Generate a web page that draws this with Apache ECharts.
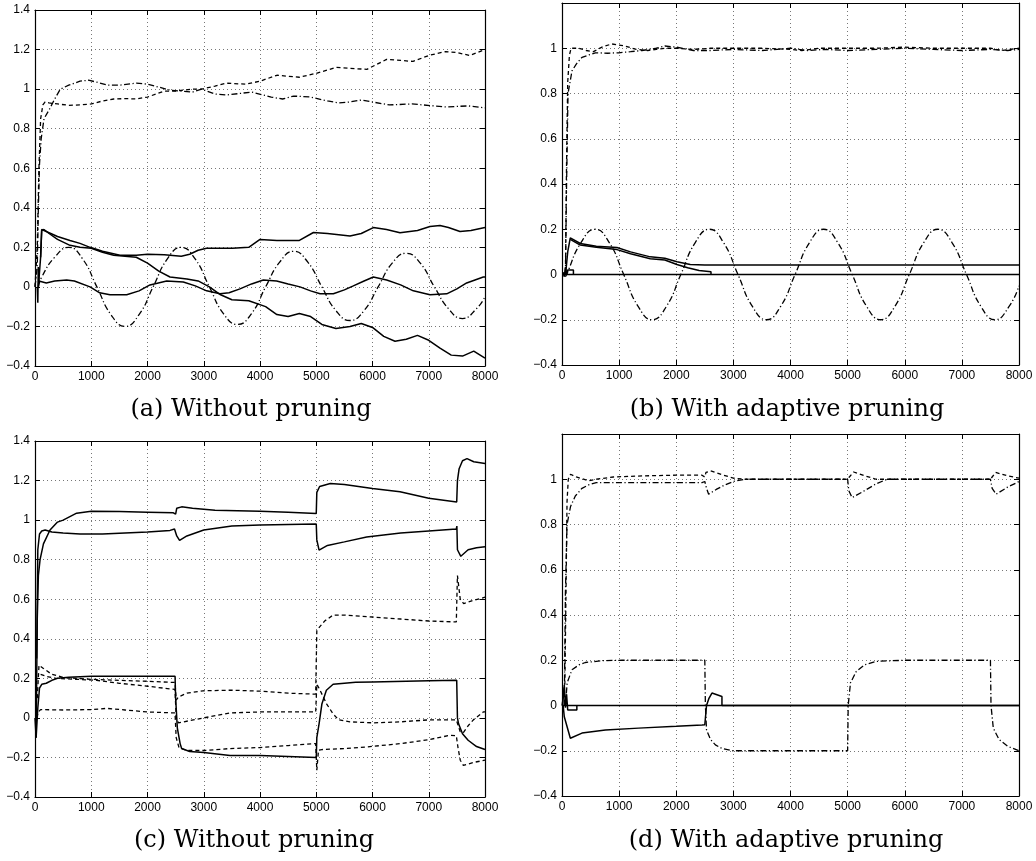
<!DOCTYPE html>
<html>
<head>
<meta charset="utf-8">
<script src="https://cdn.jsdelivr.net/npm/echarts@6/dist/echarts.min.js"></script>
<style>
html,body{margin:0;padding:0;background:#fff;}
#chart{width:1036px;height:861px;}
</style>
</head>
<body>
<div id="chart"></div>
<script>
// ---------- captions ----------
const captions = ['(a) Without pruning', '(b) With adaptive pruning', '(c) Without pruning', '(d) With adaptive pruning'];

// ---------- panel (a) ----------
const a_dash = [[0,0],[40,0.2],[70,0.6],[100,0.85],[140,0.92],[180,0.935],[250,0.93],[400,0.925],[600,0.918],[800,0.92],[1000,0.925],[1200,0.94],[1400,0.95],[1600,0.952],[1800,0.95],[2000,0.96],[2300,0.99],[2500,0.99],[2800,1.0],[2963,1.0],[3200,1.015],[3400,1.03],[3750,1.025],[4000,1.04],[4300,1.07],[4700,1.06],[5000,1.08],[5360,1.11],[5600,1.105],[5900,1.1],[6250,1.15],[6500,1.145],[6720,1.14],[7000,1.17],[7300,1.19],[7500,1.185],[7730,1.17],[8000,1.2]];
const a_dashdot = [[0,0],[40,0.1],[60,0.4],[80,0.62],[110,0.75],[160,0.85],[260,0.9],[350,0.95],[450,1.0],[600,1.02],[800,1.04],[950,1.045],[1100,1.035],[1300,1.02],[1500,1.02],[1800,1.03],[2000,1.025],[2200,1.01],[2400,0.995],[2600,0.99],[2800,0.985],[2963,1.0],[3200,0.975],[3400,0.97],[3700,0.98],[3850,0.985],[4200,0.96],[4400,0.95],[4600,0.965],[4900,0.96],[5200,0.94],[5400,0.93],[5600,0.935],[5800,0.945],[6000,0.935],[6300,0.92],[6700,0.925],[7100,0.915],[7300,0.91],[7700,0.915],[8000,0.905]];
const a_sine = [[60,0.0],[120,0.05],[350,0.15],[600,0.2],[850,0.14],[1100,0.0],[1350,-0.14],[1600,-0.2],[1850,-0.14],[2100,0.0],[2350,0.14],[2600,0.2],[2850,0.14],[3100,0.0],[3350,-0.135],[3600,-0.19],[3850,-0.135],[4100,0.0],[4350,0.125],[4600,0.18],[4850,0.125],[5100,0.0],[5350,-0.12],[5600,-0.17],[5850,-0.12],[6100,0.0],[6350,0.12],[6600,0.17],[6850,0.12],[7100,0.0],[7350,-0.11],[7600,-0.16],[7850,-0.11],[8000,-0.05]];
const a_solid1 = [[60,0.0],[100,0.15],[119,0.29],[200,0.28],[400,0.255],[622,0.235],[800,0.22],[978,0.2],[1200,0.18],[1511,0.16],[1800,0.16],[2000,0.165],[2300,0.162],[2600,0.155],[2750,0.165],[2900,0.185],[3050,0.195],[3300,0.195],[3511,0.195],[3800,0.2],[4000,0.24],[4300,0.235],[4700,0.235],[4950,0.275],[5200,0.27],[5600,0.257],[5800,0.27],[6015,0.3],[6250,0.29],[6489,0.274],[6800,0.285],[7022,0.305],[7200,0.31],[7350,0.3],[7555,0.28],[7750,0.285],[8000,0.3]];
const a_solid2 = [[100,0.15],[119,0.285],[160,0.29],[250,0.27],[400,0.24],[622,0.21],[800,0.2],[1000,0.195],[1200,0.175],[1400,0.16],[1600,0.155],[1800,0.15],[2000,0.12],[2200,0.08],[2400,0.05],[2700,0.04],[2900,0.03],[3100,0.0],[3300,-0.04],[3500,-0.065],[3800,-0.07],[4100,-0.1],[4300,-0.14],[4500,-0.15],[4700,-0.135],[4900,-0.15],[5100,-0.19],[5350,-0.21],[5600,-0.2],[5800,-0.185],[6000,-0.205],[6200,-0.25],[6400,-0.275],[6600,-0.265],[6800,-0.245],[7000,-0.27],[7200,-0.31],[7400,-0.345],[7600,-0.35],[7800,-0.325],[8000,-0.36]];
const a_solid3 = [[40,0.0],[50,-0.08],[58,0.1],[70,0.03],[89,0.025],[200,0.02],[350,0.03],[563,0.035],[700,0.03],[978,0.0],[1150,-0.03],[1333,-0.04],[1630,-0.04],[1850,-0.02],[2044,0.01],[2341,0.03],[2637,0.025],[2850,0.005],[3052,-0.02],[3289,-0.035],[3450,-0.03],[3644,-0.01],[3850,0.015],[4059,0.035],[4296,0.03],[4500,0.015],[4711,0.0],[4900,-0.02],[5067,-0.035],[5304,-0.035],[5500,-0.015],[5659,0.005],[5850,0.03],[6015,0.05],[6252,0.035],[6500,0.01],[6726,-0.02],[7022,-0.04],[7319,-0.035],[7500,-0.01],[7674,0.02],[7970,0.05],[8000,0.05]];

// ---------- panel (b) ----------
const b_dash = [[0,0],[60,0.0],[80,0.5],[100,0.85],[130,0.97],[160,1.0],[300,1.0],[425,0.99],[550,0.985],[700,1.005],[870,1.019],[1100,1.01],[1300,0.995],[1500,0.99],[1650,0.995],[1800,1.0],[2000,1.0],[2300,0.995],[2600,1.0],[3000,1.0],[3500,1.0],[4000,0.995],[4200,0.99],[4500,1.0],[5000,1.0],[5500,1.0],[6000,1.005],[6500,1.0],[7000,1.0],[7500,1.0],[7700,0.99],[8000,1.0]];
const b_dashdot = [[60,0.0],[80,0.4],[105,0.8],[175,0.9],[250,0.93],[350,0.96],[583,0.98],[800,0.978],[990,0.98],[1200,0.985],[1400,0.99],[1650,1.0],[1800,1.01],[2000,1.005],[2300,0.99],[2600,0.99],[3000,0.995],[3500,0.99],[4000,1.0],[4300,0.99],[4600,0.995],[5000,0.99],[5500,0.995],[6000,1.0],[6500,0.995],[7000,0.99],[7500,0.995],[7800,0.99],[8000,0.995]];
const b_sine = [[60,-0.01],[80,0.0],[330,0.14],[580,0.2],[830,0.14],[1080,0.0],[1330,-0.14],[1580,-0.2],[1830,-0.14],[2080,0.0],[2330,0.14],[2580,0.2],[2830,0.14],[3080,0.0],[3330,-0.14],[3580,-0.2],[3830,-0.14],[4080,0.0],[4330,0.14],[4580,0.2],[4830,0.14],[5080,0.0],[5330,-0.14],[5580,-0.2],[5830,-0.14],[6080,0.0],[6330,0.14],[6580,0.2],[6830,0.14],[7080,0.0],[7330,-0.14],[7580,-0.2],[7830,-0.14],[8000,-0.05]];
const b_solid1 = [[40,0.0],[70,0.02],[100,0.1],[145,0.162],[320,0.137],[600,0.125],[962,0.119],[1200,0.1],[1545,0.078],[1800,0.072],[2012,0.056],[2245,0.044],[2500,0.042],[8000,0.042]];
const b_solid2 = [[145,0.155],[320,0.13],[600,0.12],[962,0.11],[1200,0.092],[1545,0.07],[1800,0.064],[2012,0.044],[2200,0.03],[2400,0.018],[2608,0.012],[2608,0.0]];
const b_zero = [[0,0.0],[8000,0.0]];
const b_step = [[20,0.01],[40,-0.01],[60,0.03],[80,0.0],[100,0.02],[200,0.02],[200,0.0]];

// ---------- panel (c) ----------
const c_solid1 = [[0,0.0],[20,-0.1],[40,0.5],[60,0.72],[90,0.8],[150,0.88],[267,0.95],[400,0.99],[500,1.0],[740,1.035],[1000,1.045],[1500,1.043],[2000,1.04],[2460,1.037],[2500,1.03],[2520,1.06],[2607,1.067],[2800,1.06],[3200,1.05],[4000,1.045],[4500,1.04],[5000,1.033],[5010,1.14],[5060,1.17],[5250,1.185],[5500,1.18],[6000,1.16],[6489,1.143],[7000,1.11],[7497,1.092],[7510,1.2],[7540,1.26],[7600,1.3],[7680,1.311],[7800,1.295],[8000,1.286]];
const c_solid2 = [[30,0.3],[50,0.85],[80,0.93],[120,0.945],[180,0.95],[300,0.94],[500,0.935],[800,0.93],[1200,0.93],[1600,0.935],[2000,0.94],[2400,0.948],[2480,0.955],[2500,0.96],[2520,0.92],[2570,0.898],[2700,0.92],[3000,0.95],[3500,0.97],[4000,0.975],[4500,0.978],[5000,0.98],[5010,0.9],[5050,0.848],[5200,0.872],[5500,0.89],[5896,0.915],[6500,0.935],[7000,0.945],[7490,0.955],[7500,0.97],[7510,0.85],[7570,0.817],[7700,0.85],[7850,0.86],[8000,0.865]];
const c_solid3 = [[20,-0.1],[50,0.05],[80,0.15],[120,0.17],[200,0.175],[300,0.19],[400,0.2],[600,0.205],[1000,0.21],[2000,0.21],[2490,0.21],[2500,0.1],[2530,-0.05],[2580,-0.13],[2607,-0.155],[2750,-0.17],[3000,-0.175],[3467,-0.19],[4000,-0.19],[4500,-0.195],[5000,-0.2],[5010,-0.1],[5050,-0.03],[5100,0.07],[5180,0.14],[5300,0.17],[5700,0.18],[6000,0.182],[7000,0.188],[7497,0.19],[7510,0.0],[7530,-0.03],[7600,-0.08],[7700,-0.113],[7850,-0.145],[8000,-0.16]];
const c_dash1 = [[40,0.1],[71,0.266],[150,0.25],[300,0.22],[500,0.205],[1000,0.195],[1500,0.19],[2000,0.185],[2489,0.179],[2510,0.09],[2550,0.106],[2700,0.125],[2987,0.137],[3500,0.14],[4000,0.135],[4500,0.125],[4990,0.12],[5010,0.44],[5060,0.46],[5150,0.49],[5300,0.52],[5500,0.52],[6000,0.51],[6500,0.5],[7000,0.49],[7490,0.485],[7510,0.72],[7560,0.6],[7620,0.578],[7800,0.595],[8000,0.61]];
const c_dash2 = [[100,0.22],[200,0.21],[370,0.2],[1096,0.19],[1500,0.175],[2000,0.16],[2489,0.144],[2510,0.0],[2550,-0.025],[3000,0.0],[3467,0.025],[4000,0.03],[4500,0.03],[4990,0.03],[5010,0.17],[5050,0.15],[5186,0.07],[5300,0.02],[5400,-0.01],[5600,-0.02],[6000,-0.025],[6500,-0.02],[7000,-0.01],[7490,-0.01],[7560,-0.07],[7615,-0.075],[7700,-0.04],[7793,-0.01],[7970,0.03],[8000,0.03]];
const c_dash3 = [[30,0.0],[60,0.03],[100,0.042],[500,0.04],[1000,0.042],[1274,0.048],[1600,0.04],[2000,0.03],[2489,0.025],[2510,-0.1],[2560,-0.15],[2700,-0.165],[3000,-0.165],[3467,-0.155],[4000,-0.15],[4500,-0.14],[4990,-0.13],[5010,-0.265],[5040,-0.163],[5100,-0.16],[5500,-0.155],[5896,-0.147],[6500,-0.13],[7000,-0.11],[7378,-0.088],[7490,-0.09],[7520,-0.15],[7560,-0.214],[7615,-0.24],[7800,-0.225],[8000,-0.214]];

// ---------- panel (d) ----------
const d_dash = [[0,0.0],[50,0.1],[70,0.5],[88,0.9],[110,1.0],[150,1.022],[250,1.01],[466,0.993],[600,1.0],[900,1.01],[1440,1.015],[2000,1.018],[2451,1.018],[2500,1.01],[2520,1.03],[2600,1.037],[2800,1.02],[3000,1.005],[3200,1.0],[5000,1.0],[5030,1.01],[5105,1.032],[5300,1.015],[5500,1.0],[7500,1.0],[7530,1.01],[7590,1.03],[7800,1.015],[8000,1.005]];
const d_dashdot = [[40,0.0],[60,0.5],[88,0.8],[150,0.88],[233,0.926],[350,0.96],[466,0.975],[600,0.985],[1000,0.985],[1500,0.985],[2000,0.985],[2451,0.985],[2500,0.99],[2530,0.96],[2567,0.934],[2700,0.955],[2850,0.975],[3000,0.99],[3200,1.0],[5000,1.0],[5020,0.95],[5078,0.919],[5300,0.95],[5500,0.98],[5690,1.0],[7500,1.0],[7530,0.96],[7600,0.934],[7800,0.965],[8000,0.99]];
const d_square = [[60,0.0],[90,0.1],[175,0.158],[300,0.18],[408,0.19],[700,0.198],[1050,0.2],[2000,0.2],[2500,0.2],[2510,0.0],[2530,-0.108],[2600,-0.15],[2685,-0.174],[2800,-0.19],[2977,-0.2],[5000,-0.2],[5010,0.0],[5050,0.1],[5150,0.15],[5300,0.18],[5500,0.195],[6000,0.2],[7500,0.2],[7510,0.0],[7550,-0.1],[7650,-0.15],[7800,-0.18],[8000,-0.2]];
const d_solid = [[20,0.0],[40,-0.05],[146,-0.145],[350,-0.122],[760,-0.108],[1340,-0.1],[2000,-0.092],[2451,-0.086],[2500,-0.085],[2530,0.0],[2570,0.03],[2625,0.055],[2800,0.04],[2800,0.0],[8000,0.0]];
const d_zero = [[0,0.0],[8000,0.0]];
const d_step = [[10,0.0],[40,0.09],[60,-0.01],[80,0.05],[100,-0.02],[260,-0.02],[260,0.0]];

// ---------- layout ----------
const grids = [
  {left:35, top:10, width:450, height:356},
  {left:562, top:3, width:457, height:362},
  {left:35, top:441, width:450, height:356},
  {left:562, top:434, width:457, height:362}
];
const yMaxes = [1.4, 1.2, 1.4, 1.2];
const hideTop = [false, true, false, true];
const captionPos = [[251,410],[787,410],[254,841],[786,841]];

const DASH = [4,3];
const DASHDOT = [6,2.5,1.2,2.5];
const SOLID = 'solid';

const panels = [
  [[a_dash,DASH],[a_dashdot,DASHDOT],[a_sine,DASHDOT,true],[a_solid1,SOLID],[a_solid2,SOLID],[a_solid3,SOLID]],
  [[b_dash,DASH],[b_dashdot,DASHDOT],[b_sine,DASHDOT,true],[b_solid1,SOLID],[b_solid2,SOLID],[b_zero,SOLID],[b_step,SOLID]],
  [[c_solid1,SOLID],[c_solid2,SOLID],[c_solid3,SOLID],[c_dash1,DASH],[c_dash2,DASH],[c_dash3,DASH]],
  [[d_dash,DASH],[d_dashdot,DASHDOT],[d_square,DASHDOT],[d_solid,SOLID],[d_zero,SOLID],[d_step,SOLID]]
];

const labelFont = {fontFamily:'Liberation Sans', fontSize:12, color:'#000'};
const xAxes = [], yAxes = [], series = [];
grids.forEach((g, i) => {
  const common = {type:'value', gridIndex:i, axisLine:{show:true, onZero:false, lineStyle:{color:'#000', width:1.2}},
                  axisTick:{show:true, inside:true, length:5, lineStyle:{color:'#000'}}};
  xAxes.push(Object.assign({}, common, {position:'bottom', min:0, max:8000, interval:1000,
    axisLabel:Object.assign({show:true, margin:5, showMinLabel:true, showMaxLabel:true, formatter:v=>String(v)}, labelFont),
    splitLine:{show:true, lineStyle:{color:'#777', type:[1,3], width:1}}}));
  xAxes.push(Object.assign({}, common, {position:'top', min:0, max:8000, interval:1000,
    axisLabel:{show:false}, splitLine:{show:false}}));
  yAxes.push(Object.assign({}, common, {position:'left', min:-0.4, max:yMaxes[i], interval:0.2,
    axisLabel:Object.assign({show:true, margin:5, showMinLabel:true, showMaxLabel:true,
      formatter:v=>{ if (hideTop[i] && Math.abs(v-1.2)<1e-9) return ''; return String(+v.toFixed(1)).replace('-', '\u2212'); }}, labelFont),
    splitLine:{show:true, lineStyle:{color:'#777', type:[1,3], width:1}}}));
  yAxes.push(Object.assign({}, common, {position:'right', min:-0.4, max:yMaxes[i], interval:0.2,
    axisLabel:{show:false}, splitLine:{show:false}}));
  panels[i].forEach(([data, style, smooth]) => {
    series.push({type:'line', xAxisIndex:2*i, yAxisIndex:2*i, data:data, showSymbol:false, symbol:'none',
      smooth: smooth ? 0.5 : false, silent:true, animation:false,
      lineStyle:{color:'#000', width:style === SOLID ? 1.5 : 1.3, type:style}});
  });
});

const graphics = captions.map((t, i) => ({type:'text', x:captionPos[i][0], y:captionPos[i][1],
  style:{text:t, fill:'#000', font:'24px "DejaVu Serif"', textAlign:'center', textVerticalAlign:'middle'}}));

const chart = echarts.init(document.getElementById('chart'), null, {renderer:'canvas'});
chart.setOption({
  animation:false,
  backgroundColor:'#fff',
  grid: grids.map(g => Object.assign({containLabel:false}, g)),
  xAxis: xAxes,
  yAxis: yAxes,
  series: series,
  graphic: graphics
});
</script>
</body>
</html>
